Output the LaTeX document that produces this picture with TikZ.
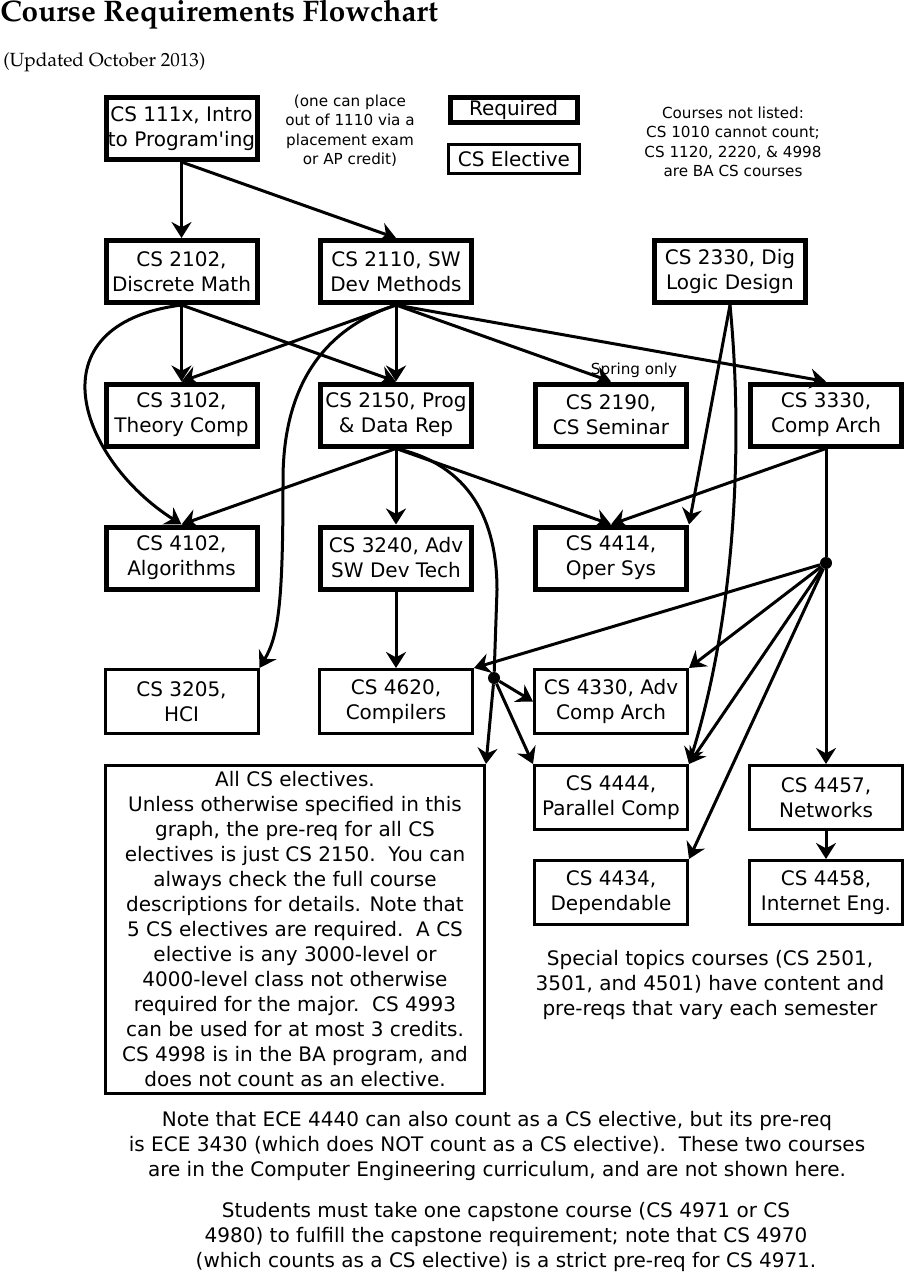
\documentclass[tikz,border=0pt]{standalone}
\usepackage[T1]{fontenc}
\usepackage{fontspec}
\usetikzlibrary{arrows.meta}
\newfontfamily\dejavu{DejaVu Sans}
\newcommand\palfont{\fontencoding{T1}\fontfamily{ppl}\selectfont}

\tikzset{
  boxfont/.style={font=\dejavu\fontsize{15}{18.75}\selectfont},
  smallfont/.style={font=\dejavu\fontsize{11.4}{14.6}\selectfont},
  reqbox/.style={draw, line width=3.75pt, boxfont, align=center, inner sep=0pt,
    minimum width=113.25pt, minimum height=46.5pt},
  elecbox/.style={draw, line width=2.25pt, boxfont, align=center, inner sep=0pt,
    minimum width=114.75pt, minimum height=48pt},
  note/.style={align=center, inner sep=0pt},
  conn/.style={line width=2.25pt, -{Stealth[length=12pt,width=15pt,inset=4pt]}},
  link/.style={line width=2.25pt},
  junction/.style={circle, fill, inner sep=0pt, minimum size=9pt},
}

\begin{document}
\begin{tikzpicture}[x=0.75pt, y=-0.75pt]
\useasboundingbox (0,0) rectangle (908,1276);

% heading
\node[anchor=base west, inner sep=0pt] (title) at (0,22)
  {\palfont\bfseries\fontsize{22.3}{26}\selectfont Course Requirements Flowchart};
\node[anchor=west, inner sep=0pt] (updated) at (3,62)
  {\palfont\fontsize{14.3}{17}\selectfont (Updated October 2013)};

% legend and side notes
\node[reqbox, minimum width=95.25pt, minimum height=18.75pt] (legreq) at (513.5,110) {Required};
\node[elecbox, minimum width=98.25pt, minimum height=21.75pt] (legelec) at (514,159) {CS Elective};
\node[note, smallfont] (placeout) at (350,130.5)
  {(one can place\\out of 1110 via a\\placement exam\\or AP credit)};
\node[note, smallfont] (notlisted) at (733,142)
  {Courses not listed:\\CS 1010 cannot count;\\CS 1120, 2220, \& 4998\\are BA CS courses};

% courses
\node[reqbox] (intro) at (181.5,128.5) {CS 111x, Intro\\to Program'ing};
\node[reqbox] (d2102) at (181.5,271.5) {CS 2102,\\Discrete Math};
\node[reqbox] (sw2110) at (396,271.5) {CS 2110, SW\\Dev Methods};
\node[reqbox] (dig2330) at (730,271.5) {CS 2330, Dig\\Logic Design};

\node[reqbox] (t3102) at (181.5,415) {CS 3102,\\Theory Comp};
\node[reqbox] (p2150) at (396,415) {CS 2150, Prog\\\& Data Rep};
\node[reqbox] (s2190) at (611,415) {CS 2190,\\CS Seminar};
\node[reqbox] (a3330) at (826,415) {CS 3330,\\Comp Arch};
\node[smallfont, inner sep=0pt] (spring) at (634,370) {Spring only};

\node[reqbox] (alg4102) at (181.5,558) {CS 4102,\\Algorithms};
\node[reqbox] (adv3240) at (396,558) {CS 3240, Adv\\SW Dev Tech};
\node[reqbox] (os4414) at (611,558) {CS 4414,\\Oper Sys};

\node[elecbox] (hci3205) at (181.5,701.5) {CS 3205,\\HCI};
\node[elecbox] (comp4620) at (396,701.5) {CS 4620,\\Compilers};
\node[elecbox] (aca4330) at (611,701.5) {CS 4330, Adv\\Comp Arch};

\node[elecbox] (par4444) at (611,797.5) {CS 4444,\\Parallel Comp};
\node[elecbox] (net4457) at (826,797.5) {CS 4457,\\Networks};
\node[elecbox] (dep4434) at (611,892.5) {CS 4434,\\Dependable};
\node[elecbox] (ie4458) at (826,892.5) {CS 4458,\\Internet Eng.};

\node[elecbox, minimum width=284.25pt, minimum height=246pt] (elec) at (295,929.5)
  {All CS electives.\\
   Unless otherwise specified in this\\
   graph, the pre-req for all CS\\
   electives is just CS 2150.\ \ You can\\
   always check the full course\\
   descriptions for details. Note that\\
   5 CS electives are required.\ \ A CS\\
   elective is any 3000-level or\\
   4000-level class not otherwise\\
   required for the major.\ \ CS 4993\\
   can be used for at most 3 credits.\\
   CS 4998 is in the BA program, and\\
   does not count as an elective.};

\node[junction] (dot1) at (826,563) {};
\node[junction] (dot2) at (494,678) {};

% bottom notes
\node[note, boxfont] (special) at (710,985)
  {Special topics courses (CS 2501,\\3501, and 4501) have content and\\pre-reqs that vary each semester};
\node[note, font=\dejavu\fontsize{15}{19}\selectfont] (ece) at (497,1146)
  {Note that ECE 4440 can also count as a CS elective, but its pre-req\\
   is ECE 3430 (which does NOT count as a CS elective).\ \ These two courses\\
   are in the Computer Engineering curriculum, and are not shown here.};
\node[note, font=\dejavu\fontsize{15}{18.5}\selectfont] (capstone) at (506,1237)
  {Students must take one capstone course (CS 4971 or CS\\
   4980) to fulfill the capstone requirement; note that CS 4970\\
   (which counts as a CS elective) is a strict pre-req for CS 4971.};

% prerequisites
\draw[conn] (intro.south) -- (d2102.north);
\draw[conn] (intro.south) -- (sw2110.north);

\draw[conn] (d2102.south) -- (t3102.north);
\draw[conn] (d2102.south) -- (p2150.north);
\draw[conn] (d2102.south) .. controls (30,325) and (80,460) .. (alg4102.north);

\draw[conn] (sw2110.south) -- (t3102.north);
\draw[conn] (sw2110.south) -- (p2150.north);
\draw[conn] (sw2110.south) -- (s2190.north);
\draw[conn] (sw2110.south) -- (a3330.north);
\draw[conn] (sw2110.south) .. controls (320,330) and (283,390) .. (283,480)
  .. controls (283,600) and (279,635) .. (hci3205.north east);

\draw[conn] (dig2330.south) -- (os4414.north east);
\draw[conn] (dig2330.south) .. controls (744,450) and (734,620) .. (par4444.north east);

\draw[conn] (p2150.south) -- (alg4102.north);
\draw[conn] (p2150.south) -- (adv3240.north);
\draw[conn] (p2150.south) -- (os4414.north);
\draw[link] (p2150.south) .. controls (470,465) and (497,520) .. (497,590) -- (dot2);

\draw[conn] (a3330.south) -- (os4414.north);
\draw[link] (a3330.south) -- (dot1);

\draw[conn] (adv3240.south) -- (comp4620.north);

\draw[conn] (dot1) -- (comp4620.north east);
\draw[conn] (dot1) -- (aca4330.north east);
\draw[conn] (dot1) -- (par4444.north east);
\draw[conn] (dot1) -- (dep4434.north east);
\draw[conn] (dot1) -- (net4457.north);

\draw[conn] (dot2) -- (elec.north east);
\draw[conn] (dot2) -- (aca4330.west);
\draw[conn] (dot2) -- (par4444.north west);

\draw[conn] (net4457.south) -- (ie4458.north);
\end{tikzpicture}
\end{document}
